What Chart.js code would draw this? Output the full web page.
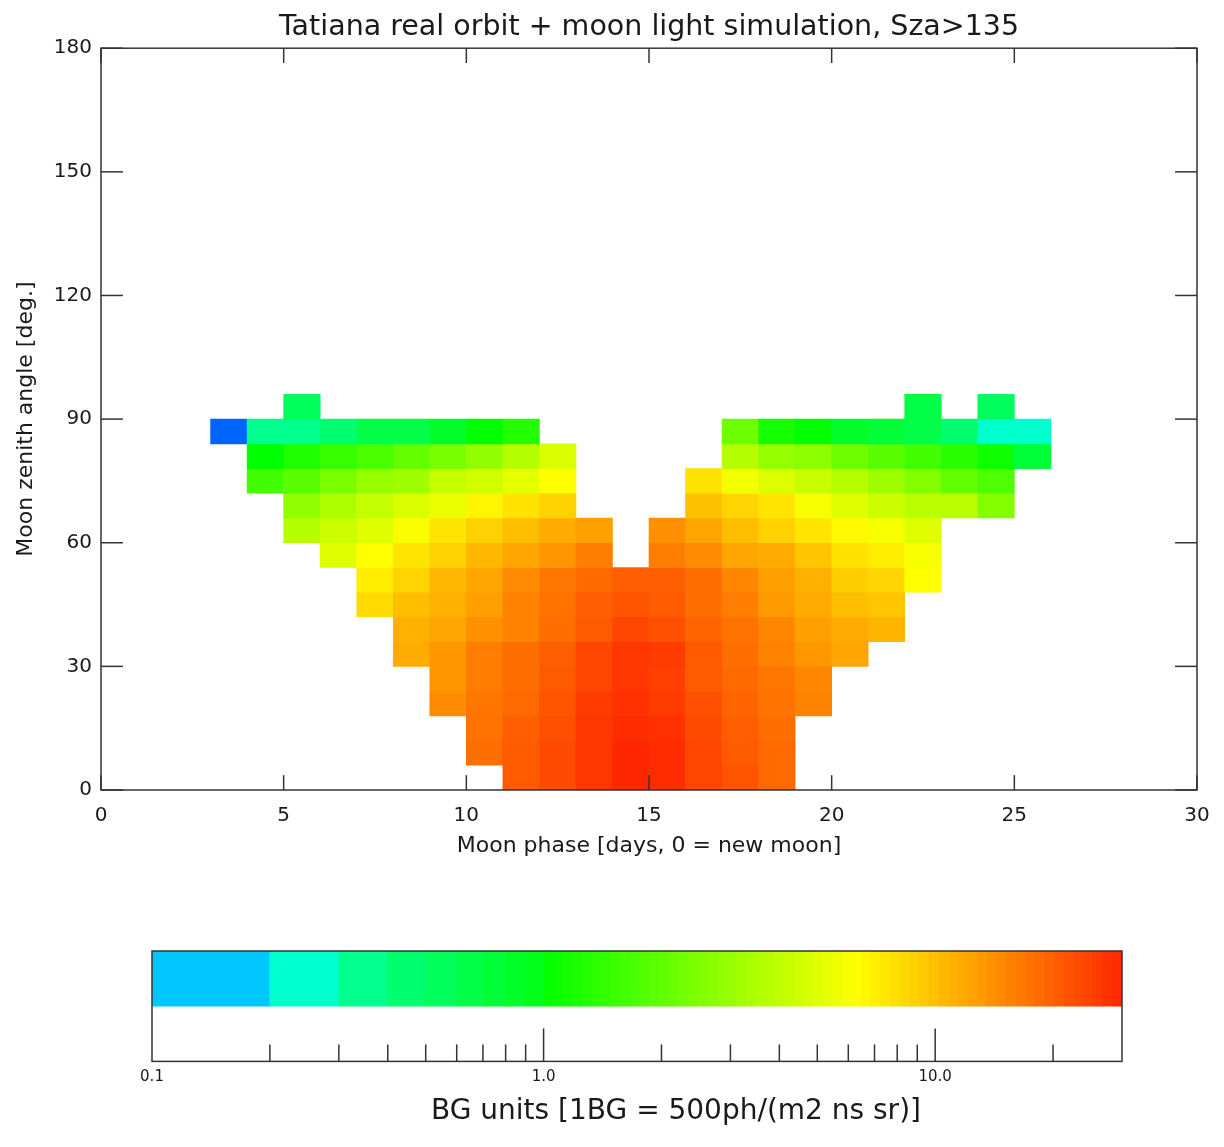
<!DOCTYPE html>
<html>
<head>
<meta charset="utf-8">
<title>Tatiana moon light</title>
<script src="https://cdn.jsdelivr.net/npm/chart.js@4.4.1/dist/chart.umd.min.js"></script>
<style>
	html, body { margin: 0; padding: 0; background: #fff; }
	#wrap { position: relative; width: 1224px; height: 1147px; }
	#main { position: absolute; left: 0; top: 0; }
	#bar { position: absolute; left: 128px; top: 900px; }
</style>
</head>
<body>
<div id="wrap">
	<canvas id="main" width="1224" height="880"></canvas>
	<canvas id="bar" width="1096" height="247"></canvas>
</div>
<script>
// zenith bin edges [deg], one row of cells between two edges
var zenithEdges = [0, 6, 12, 18, 24, 30, 36, 42, 48, 54, 60, 66, 72, 78, 84, 90, 96];

// first moon-phase day of every row (cell spans day .. day+1)
var firstDay = [11, 10, 10, 9, 9, 8, 8, 7, 7, 6, 5, 5, 4, 4, 3, 5];

// background level per cell [BG units], null = no data
var bgRows = [
	[20.8, 23.2, 27, 30, 29, 24, 21.5, 18.6],
	[18, 20.8, 23.2, 27, 30, 29, 24, 20.8, 18.6],
	[17.4, 20.2, 22.5, 27, 29, 28, 23.2, 20.2, 18],
	[14.5, 16.8, 18.6, 21.5, 26, 28, 26, 22.5, 19.3, 17.4, 15.5],
	[13.5, 16.1, 18, 20.8, 24, 27, 25, 20.8, 18.6, 16.8, 15],
	[11.6, 13.5, 16.1, 18, 20.2, 24, 27, 26, 20.8, 18, 15.5, 13.5, 12.1],
	[11.2, 12.1, 14, 15.5, 18, 20.8, 24, 22.5, 19.3, 17.4, 15, 12.5, 11.6, 10.8],
	[8.2, 10.1, 11.2, 12.5, 15.5, 17.4, 20.2, 21.5, 20.8, 18, 16.1, 13, 11.6, 10.1, 9.5],
	[7.2, 8.6, 10.5, 12.1, 14.5, 16.8, 18.6, 20.2, 20, 18, 15, 12.5, 11.2, 9.1, 8.6, 6.3],
	[5.0, 6.3, 7.6, 8.8, 10.5, 12.1, 13.5, 16.1, null, 16.1, 14.5, 12.1, 11.6, 9.5, 7.8, 7.2, 6.1],
	[3.7, 4.4, 5.0, 6.1, 7.6, 8.8, 10.1, 11.6, 12.5, null, 14, 12.1, 10.1, 8.8, 7.6, 6.6, 6.0, 5.0],
	[2.85, 3.5, 4.1, 4.8, 5.5, 6.8, 7.8, 8.8, null, null, null, 9.8, 8.6, 7.6, 6.0, 5.0, 4.4, 3.8, 3.8, 2.6],
	[1.6, 1.9, 2.4, 2.95, 3.1, 4.2, 4.5, 5.2, 6.3, null, null, null, 7.8, 5.7, 4.9, 4.2, 3.7, 3.1, 2.6, 2.05, 1.75],
	[1.0, 1.24, 1.5, 1.7, 2.05, 2.4, 2.85, 3.7, 4.8, null, null, null, null, 3.7, 2.95, 2.75, 2.25, 1.9, 1.6, 1.35, 1.1, 0.75],
	[0.07, 0.35, 0.38, 0.45, 0.65, 0.65, 0.85, 1.0, 1.3, null, null, null, null, null, 2.2, 1.17, 1.0, 0.85, 0.75, 0.65, 0.45, 0.25, 0.25],
	[0.55, null, null, null, null, null, null, null, null, null, null, null, null, null, null, null, null, 0.65, null, 0.55]
];

var phaseTicks = [0, 5, 10, 15, 20, 25, 30];
var zenithTicks = [0, 30, 60, 90, 120, 150, 180];
var cbLabels = [0.1, 1, 10];
var cbMajor = [1, 10];
var cbMinor = [0.2, 0.3, 0.4, 0.5, 0.6, 0.7, 0.8, 0.9, 2, 3, 4, 5, 6, 7, 8, 9, 20];

var FONT = '"DejaVu Sans", sans-serif';
var INK = '#1a1a1a';
var FRAME = '#333333';

// colour table of the plot: stepped below 1 BG, hue ramp above
var lowSteps = ['#00c8ff', '#00ffcd', '#00ff8c', '#00ff6e', '#00ff5a', '#00ff46', '#00ff37', '#00ff28', '#00ff19'];
function bgColor(v){
	if(v < 0.1) return '#0064ff';
	if(v < 1) return lowSteps[Math.min(8, Math.floor(v * 10 + 1e-9) - 1)];
	var hue = Math.max(8, 120 - 75 * Math.log10(v));
	var r = hue >= 60 ? Math.round(255 * (120 - hue) / 60) : 255;
	var g = hue >= 60 ? 255 : Math.round(255 * hue / 60);
	return 'rgb(' + r + ',' + g + ',0)';
}

var cells = [];
bgRows.forEach(function(vals, r){
	vals.forEach(function(v, i){
		if(v === null) return;
		var day = firstDay[r] + i;
		cells.push({x: day + 0.5, y: [zenithEdges[r], zenithEdges[r + 1]], v: v});
	});
});

function line(ctx, x1, y1, x2, y2){
	ctx.beginPath();
	ctx.moveTo(x1, y1);
	ctx.lineTo(x2, y2);
	ctx.stroke();
}

// IDL style frame with inward ticks on all four sides
var frameTicks = {
	id: 'frameTicks',
	afterDatasetsDraw: function(chart){
		var ctx = chart.ctx, a = chart.chartArea;
		var x = chart.scales.x, y = chart.scales.y;
		var lx = 0.02 * (a.bottom - a.top), ly = 0.02 * (a.right - a.left);
		ctx.save();
		ctx.strokeStyle = FRAME;
		ctx.lineWidth = 1.5;
		ctx.strokeRect(a.left, a.top, a.right - a.left, a.bottom - a.top);
		phaseTicks.forEach(function(t){
			var px = x.getPixelForValue(t);
			line(ctx, px, a.bottom, px, a.bottom - lx);
			line(ctx, px, a.top, px, a.top + lx);
		});
		zenithTicks.forEach(function(t){
			var py = y.getPixelForValue(t);
			line(ctx, a.left, py, a.left + ly, py);
			line(ctx, a.right, py, a.right - ly, py);
		});
		ctx.restore();
	}
};

new Chart(document.getElementById('main'), {
	type: 'bar',
	data: {
		datasets: [{
			data: cells,
			backgroundColor: function(c){ return c.raw ? bgColor(c.raw.v) : '#fff'; },
			borderWidth: 0,
			barPercentage: 1,
			categoryPercentage: 1
		}]
	},
	options: {
		responsive: false,
		animation: false,
		devicePixelRatio: 1,
		layout: {padding: {left: 0, right: 27, top: 0, bottom: 0}},
		plugins: {
			legend: {display: false},
			tooltip: {enabled: false},
			title: {
				display: true,
				fullSize: false,
				text: 'Tatiana real orbit + moon light simulation, Sza>135',
				color: INK,
				font: {family: FONT, size: 28.5, weight: 'normal'},
				padding: {top: 10, bottom: 4}
			}
		},
		scales: {
			x: {
				type: 'linear', min: 0, max: 30, offset: false,
				grid: {display: false, drawTicks: false},
				border: {display: false},
				ticks: {stepSize: 5, padding: 14, color: INK, maxRotation: 0, font: {family: FONT, size: 20}},
				title: {display: true, text: 'Moon phase [days, 0 = new moon]', color: INK,
					font: {family: FONT, size: 22}, padding: {top: 0, bottom: 21}},
				afterFit: function(s){ s.height = 90; }
			},
			y: {
				type: 'linear', min: 0, max: 180,
				grid: {display: false, drawTicks: false},
				border: {display: false},
				ticks: {stepSize: 30, padding: 9, color: INK, font: {family: FONT, size: 20}},
				title: {display: true, text: 'Moon zenith angle [deg.]', color: INK,
					font: {family: FONT, size: 22}, padding: {top: 13, bottom: 0}},
				afterFit: function(s){ s.width = 101; }
			}
		}
	},
	plugins: [frameTicks]
});

// colour bar segments
var cbSegs = [];
for(var i = 1; i < 10; i++){
	cbSegs.push([i / 10, (i + 1) / 10, bgColor(i / 10 + 0.05)]);
}
var nHi = 60, topLog = Math.log10(30);
for(var j = 0; j < nHi; j++){
	var lo = Math.pow(10, topLog * j / nHi), hi = Math.pow(10, topLog * (j + 1) / nHi);
	cbSegs.push([lo, hi, bgColor(Math.sqrt(lo * hi))]);
}

var barTicks = {
	id: 'barTicks',
	afterDatasetsDraw: function(chart){
		var ctx = chart.ctx, a = chart.chartArea, x = chart.scales.x;
		ctx.save();
		ctx.strokeStyle = FRAME;
		ctx.lineWidth = 1.5;
		ctx.strokeRect(a.left, a.top, a.right - a.left, a.bottom - a.top);
		cbMinor.forEach(function(t){
			var px = x.getPixelForValue(t);
			line(ctx, px, a.bottom, px, a.bottom - 17);
		});
		cbMajor.forEach(function(t){
			var px = x.getPixelForValue(t);
			line(ctx, px, a.bottom, px, a.bottom - 33);
		});
		ctx.restore();
	}
};

// blank side axes only reserve room, so the title can centre on the whole canvas
function blankAxis(pos, w){
	return {
		type: 'category', position: pos,
		grid: {display: false, drawTicks: false},
		border: {display: false},
		ticks: {display: false},
		afterFit: function(s){ s.width = w; }
	};
}

new Chart(document.getElementById('bar'), {
	type: 'bar',
	data: {
		labels: ['c', 'w'],
		datasets: [{
			data: cbSegs.map(function(s){ return {x: [s[0], s[1]], y: 'c'}; }),
			backgroundColor: cbSegs.map(function(s){ return s[2]; }),
			borderWidth: 0,
			barPercentage: 1,
			categoryPercentage: 1
		}]
	},
	options: {
		indexAxis: 'y',
		responsive: false,
		animation: false,
		devicePixelRatio: 1,
		layout: {padding: {left: 0, right: 0, top: 51, bottom: 0}},
		plugins: {
			legend: {display: false},
			tooltip: {enabled: false},
			title: {
				display: true,
				position: 'bottom',
				fullSize: true,
				text: 'BG units [1BG = 500ph/(m2 ns sr)]',
				color: INK,
				font: {family: FONT, size: 28, weight: 'normal'},
				padding: {top: 4, bottom: 18}
			}
		},
		scales: {
			x: {
				type: 'logarithmic', min: 0.1, max: 30,
				grid: {display: false, drawTicks: false},
				border: {display: false},
				afterBuildTicks: function(s){ s.ticks = cbLabels.map(function(v){ return {value: v}; }); },
				ticks: {autoSkip: false, maxRotation: 0, padding: 7, color: INK, font: {family: FONT, size: 15},
					callback: function(v){ return Number(v).toFixed(1); }},
				afterFit: function(s){ s.height = 30; }
			},
			y: blankAxis('left', 24),
			yRight: blankAxis('right', 102)
		}
	},
	plugins: [barTicks]
});
</script>
</body>
</html>
